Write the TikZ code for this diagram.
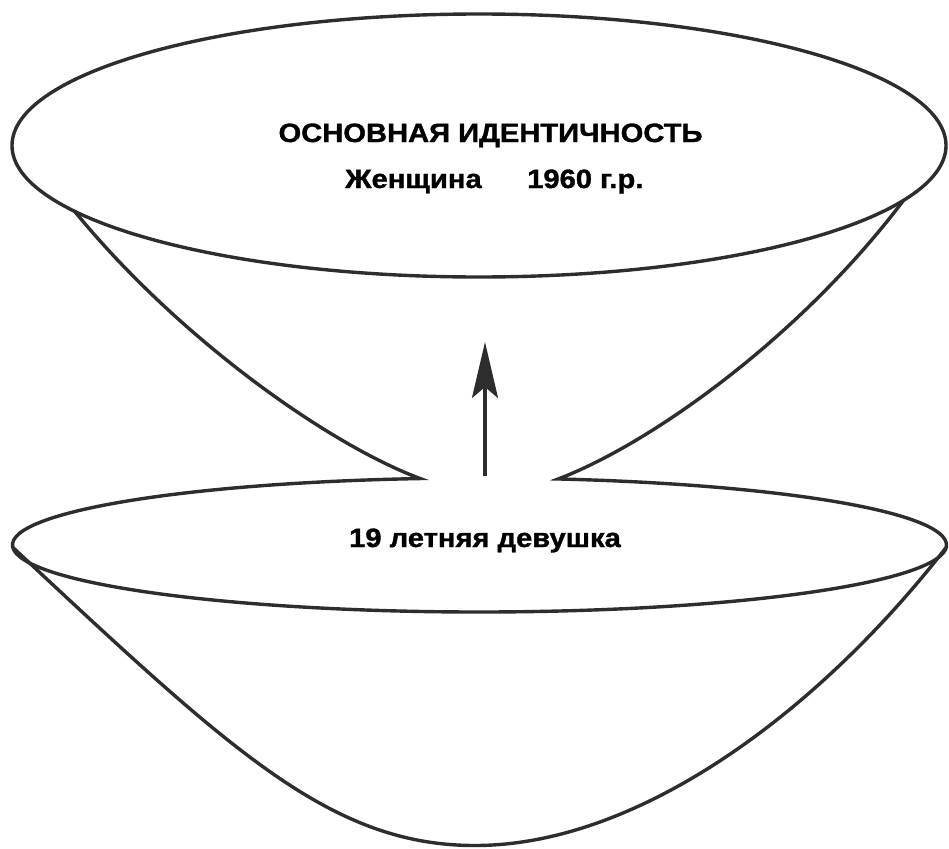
\documentclass[tikz,border=0pt]{standalone}
\usepackage{fontspec}
\setmainfont{Liberation Sans}
\newfontfamily\heavyfont{Liberation Sans Bold}[FakeBold=1.2]
\usetikzlibrary{arrows.meta,calc}
\definecolor{ink}{RGB}{45,45,45}
\newcommand{\wtxt}[1]{\scalebox{1.1}[1]{#1}}
\tikzset{
  shapeline/.style={draw=ink, line width=3.4pt, line join=miter},
  txtlbl/.style={font=\heavyfont\fontsize{26.5}{30}\selectfont, text=black, inner sep=0pt, anchor=base},
}
\begin{document}
\begin{tikzpicture}[x=1pt,y=1pt]
\useasboundingbox (0,0) rectangle (949,-848);
\coordinate (tc) at (479,-145.5);
\coordinate (bc) at (479.5,-545);
% top ellipse
\draw[shapeline] (tc) ellipse [x radius=467, y radius=131.5];
\coordinate (tjl) at ($(tc)+(210:467 and 131.5)$);
\coordinate (tjr) at ($(tc)+(-24.6:467 and 131.5)$);
\coordinate (tipl) at ($(bc)+(97.3:467 and 67)$);
\coordinate (tipr) at ($(bc)+(80.3:467 and 67)$);
% top cone + bottom ellipse (visible part)
\draw[shapeline] (tjl) .. controls (180,-340) and (330,-445) .. (tipl)
  arc[start angle=97.3, end angle=440.3, x radius=467, y radius=67]
  .. controls (648,-445) and (798,-340) .. (tjr);
% bottom cone
\coordinate (bl) at ($(bc)+(182:467 and 67)$);
\coordinate (br) at ($(bc)+(-2:467 and 67)$);
\coordinate (bot) at (475,-845.5);
\draw[shapeline] (bl) .. controls (230,-750) and (330,-845.5) .. (bot)
  .. controls (640,-845.5) and (820,-710) .. (br);
% arrow
\coordinate (as) at (485,-476);
\coordinate (ae) at (485,-342);
\draw[shapeline, -{Stealth[length=56pt,width=26pt,inset=11pt]}] (as) -- (ae);
% texts
\node[txtlbl] (title) at (490.5,-142) {\wtxt{ОСНОВНАЯ ИДЕНТИЧНОСТЬ}};
\node[txtlbl, anchor=base west] (woman) at (345,-188) {\wtxt{Женщина}};
\node[txtlbl, anchor=base west] (year) at (527,-188) {\wtxt{1960 г.р.}};
\node[txtlbl] (girl) at (485,-547) {\wtxt{19 летняя девушка}};
\end{tikzpicture}
\end{document}
